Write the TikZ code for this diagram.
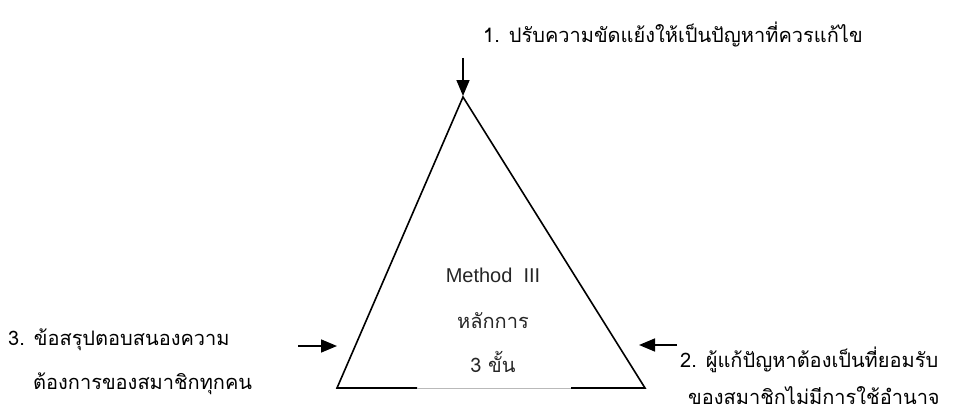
\documentclass[tikz,border=0pt]{standalone}
\usepackage{fontspec}
\setmainfont[Script=Thai]{Loma}
\newfontfamily\latinsans{Liberation Sans}
\usetikzlibrary{arrows.meta}
\begin{document}
\begin{tikzpicture}[x=1pt,y=-1pt,
  lbl/.style={inner sep=0pt,font=\fontsize{20}{24}\selectfont},
  ctr/.style={inner sep=0pt,font=\fontsize{20}{24}\selectfont,text=black!85},
  edge/.style={line width=1.6pt},
  arr/.style={line width=1.6pt,-{Triangle[length=16pt,width=13pt]}}]
\useasboundingbox[fill=white] (0,0) rectangle (963,412);
% triangle corners
\coordinate (A) at (463,97);
\coordinate (L) at (337,388);
\coordinate (R) at (645,388);
\coordinate (G1) at (417,388);
\coordinate (G2) at (571,388);
\draw[edge,line join=miter] (G1) -- (L) -- (A) -- (R) -- (G2);
\draw[gray!55,line width=1pt] (G1) -- (G2);
% arrows
\coordinate (ts) at (463,58);
\coordinate (te) at (463,96);
\draw[arr] (ts) -- (te);
\coordinate (ls) at (298,346);
\coordinate (le) at (337,346);
\draw[arr] (ls) -- (le);
\coordinate (rs) at (677,345);
\coordinate (re) at (639,345);
\draw[arr] (rs) -- (re);
% labels
\node[lbl,anchor=base west] (t1) at (483,42) {1. ปรับความขัดแย้งให้เป็นปัญหาที่ควรแก้ไข};
\node[lbl,anchor=base west] (t3a) at (8,345) {3. ข้อสรุปตอบสนองความ};
\node[lbl,anchor=base west] (t3b) at (33,389) {ต้องการของสมาชิกทุกคน};
\node[lbl,anchor=base west] (t2a) at (680,367) {2. ผู้แก้ปัญหาต้องเป็นที่ยอมรับ};
\node[lbl,anchor=base west] (t2b) at (688,404) {ของสมาชิกไม่มีการใช้อำนาจ};
\node[ctr,anchor=base] (c1) at (493,282) {\latinsans Method\ \ III};
\node[ctr,anchor=base] (c2) at (493,328) {หลักการ};
\node[ctr,anchor=base] (c3) at (493,372) {3 ขั้น};
\end{tikzpicture}
\end{document}
